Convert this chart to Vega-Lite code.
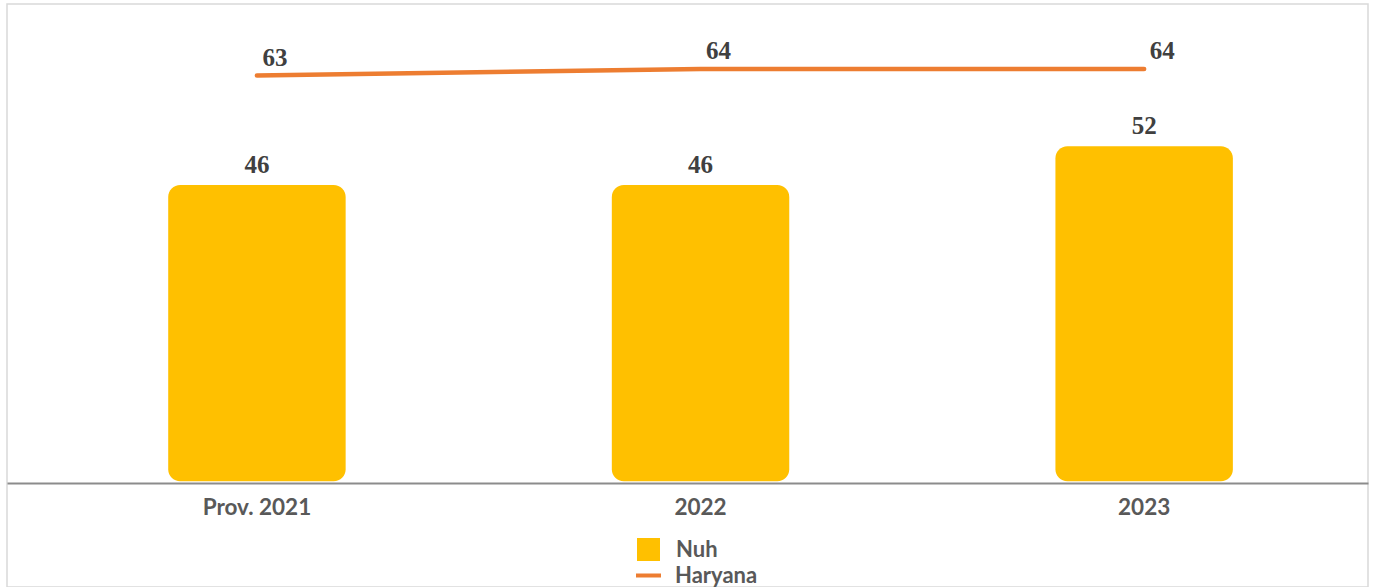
{
  "$schema": "https://vega.github.io/schema/vega-lite/v6.json",
  "width": 1361,
  "height": 583,
  "autosize": {"type": "none"},
  "padding": {"left": 7, "top": 4, "right": 10, "bottom": 0},
  "background": "white",
  "config": {"view": {"stroke": "#d9d9d9", "strokeWidth": 1.5}, "font": "Lato"},
  "data": {
    "values": [
      {"year": "Prov. 2021", "series": "Nuh", "value": 46},
      {"year": "2022", "series": "Nuh", "value": 46},
      {"year": "2023", "series": "Nuh", "value": 52},
      {"year": "Prov. 2021", "series": "Haryana", "value": 63},
      {"year": "2022", "series": "Haryana", "value": 64},
      {"year": "2023", "series": "Haryana", "value": 64}
    ]
  },
  "encoding": {
    "x": {
      "field": "year",
      "type": "nominal",
      "sort": ["Prov. 2021", "2022", "2023"],
      "scale": {"paddingInner": 0.6, "paddingOuter": 0.334, "align": 0.544},
      "axis": {
        "title": null,
        "orient": "bottom",
        "offset": -104,
        "domainColor": "#8c8c8c",
        "domainWidth": 2,
        "ticks": false,
        "grid": false,
        "labelAngle": 0,
        "labelFont": "Lato",
        "labelFontSize": 22.5,
        "labelFontWeight": "bold",
        "labelColor": "#595959",
        "labelPadding": 13
      }
    },
    "y": {
      "field": "value",
      "type": "quantitative",
      "scale": {"domain": [-16.4, 74.1], "nice": false, "zero": false},
      "axis": null
    }
  },
  "layer": [
    {
      "transform": [{"filter": "datum.series === 'Nuh'"}],
      "mark": {"type": "bar", "cornerRadius": 12},
      "encoding": {
        "y2": {"datum": 0},
        "fill": {
          "field": "series",
          "type": "nominal",
          "scale": {"domain": ["Nuh"], "range": ["#FFC000"]},
          "legend": {
            "title": null,
            "orient": "none",
            "legendX": 630,
            "legendY": 534,
            "padding": 0,
            "symbolType": "square",
            "symbolSize": 529,
            "symbolStrokeWidth": 0,
            "labelFont": "Lato",
            "labelFontSize": 22,
            "labelFontWeight": "bold",
            "labelColor": "#595959",
            "labelOffset": 16
          }
        }
      }
    },
    {
      "transform": [{"filter": "datum.series === 'Nuh'"}],
      "mark": {"type": "text", "baseline": "alphabetic", "dy": -12, "font": "Liberation Serif", "fontSize": 25, "fontWeight": "bold", "fill": "#404040"},
      "encoding": {"text": {"field": "value", "type": "quantitative"}}
    },
    {
      "transform": [{"filter": "datum.series === 'Haryana'"}],
      "mark": {"type": "line", "strokeWidth": 4.5, "strokeCap": "round"},
      "encoding": {
        "stroke": {
          "field": "series",
          "type": "nominal",
          "scale": {"domain": ["Haryana"], "range": ["#ED7D31"]},
          "legend": {
            "title": null,
            "orient": "none",
            "legendX": 627,
            "legendY": 557,
            "padding": 0,
            "symbolType": "stroke",
            "symbolSize": 625,
            "symbolStrokeWidth": 4,
            "labelFont": "Lato",
            "labelFontSize": 22,
            "labelFontWeight": "bold",
            "labelColor": "#595959",
            "labelOffset": 12
          }
        }
      }
    },
    {
      "transform": [{"filter": "datum.series === 'Haryana'"}],
      "mark": {"type": "text", "baseline": "alphabetic", "dx": 18, "dy": -10, "font": "Liberation Serif", "fontSize": 25, "fontWeight": "bold", "fill": "#404040"},
      "encoding": {"text": {"field": "value", "type": "quantitative"}}
    }
  ]
}
